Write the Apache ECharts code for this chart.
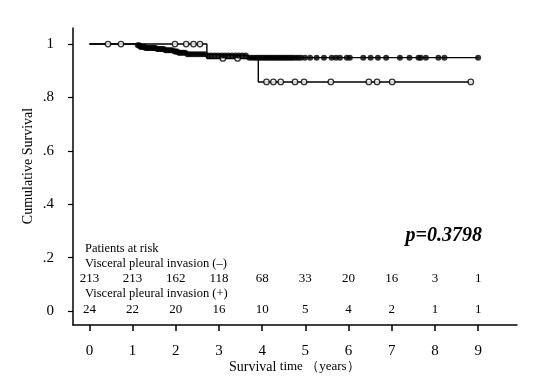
<!DOCTYPE html>
<html><head><meta charset="utf-8">
<script src="https://cdn.jsdelivr.net/npm/echarts@6/dist/echarts.min.js"></script>
<style>html,body{margin:0;padding:0;background:#fff}#c{width:549px;height:383px}</style>
</head><body><div id="c"></div><script>
// ---- data ----
const xTicks = [0,1,2,3,4,5,6,7,8,9];
const yTicks = [0,0.2,0.4,0.6,0.8,1];
// VPI (-) : Kaplan-Meier steps [time, survival after time]
const negEventTimes = [0,1.1,1.18,1.3,1.55,1.75,1.95,2.05,2.25,2.72,3.68];
const negEventSurv  = [1,0.995,0.99,0.985,0.981,0.977,0.972,0.967,0.962,0.957,0.949];
const negEndTime = 9.0;
const negCensor = [1.12,1.15,1.18,1.2,1.22,1.25,1.27,1.3,1.33,1.36,1.4,1.43,1.46,1.5,1.53,1.57,1.6,1.64,1.68,1.72,1.76,1.8,1.84,1.88,1.92,1.97,2.0,2.03,2.07,2.1,2.14,2.18,2.22,2.27,2.32,2.38,2.44,2.5,2.56,2.62,2.68,2.75,2.82,2.9,2.98,3.06,3.14,3.22,3.3,3.38,3.46,3.54,3.62,3.7,3.76,3.82,3.87,3.92,3.97,4.02,4.07,4.12,4.17,4.22,4.27,4.32,4.37,4.42,4.47,4.52,4.57,4.62,4.67,4.72,4.78,4.84,4.9,4.99,5.11,5.26,5.43,5.61,5.71,5.8,5.96,6.03,6.34,6.51,6.68,6.87,7.19,7.41,7.62,7.67,7.79,8.08,8.22,9.0];
// VPI (+)
const posEventTimes = [0,2.72,3.91];
const posEventSurv  = [1,0.946,0.858];
const posEndTime = 8.85;
const posCensor = [0.43,0.73,1.98,2.24,2.41,2.56,3.09,3.43,4.1,4.26,4.43,4.76,4.97,5.59,6.47,6.66,7.01,8.83];
// patients at risk
const riskTimes = [0,1,2,3,4,5,6,7,8,9];
const riskNeg = [213,213,162,118,68,33,20,16,3,1];
const riskPos = [24,22,20,16,10,5,4,2,1,1];
const pText = 'p=0.3798';

// ---- build ----
function stepData(ts, ss, end){
  const d = ts.map((t,i)=>[t, ss[i]]);
  d.push([end, ss[ss.length-1]]);
  return d;
}
function survAt(ts, ss, t){
  let v = ss[0];
  for (let i=0;i<ts.length;i++){ if (ts[i] <= t) v = ss[i]; }
  return v;
}
const FONT = '"Liberation Serif", "Times New Roman", serif';
const chart = echarts.init(document.getElementById('c'), null, {renderer:'canvas'});
const option = {
  backgroundColor: '#fff',
  animation: false,
  grid: {left: 73, right: 32, top: 28, bottom: 58, containLabel: false, outerBoundsMode: 'none'},
  xAxis: {
    type: 'value', min: -0.38, max: 9.9,
    axisLine: {show: true, onZero: false, lineStyle: {color: '#000', width: 1.5}},
    axisTick: {show: true, customValues: xTicks, length: 6, lineStyle: {color: '#000', width: 1.5}},
    axisLabel: {customValues: xTicks, color: '#000', fontSize: 15, fontFamily: FONT, margin: 19},
    splitLine: {show: false}
  },
  yAxis: {
    type: 'value', min: -0.052, max: 1.06,
    axisLine: {show: true, onZero: false, lineStyle: {color: '#000', width: 1.5}},
    axisTick: {show: true, customValues: yTicks, length: 5, lineStyle: {color: '#000', width: 1.2}},
    axisLabel: {customValues: yTicks, color: '#000', fontSize: 15, fontFamily: FONT, margin: 19,
      formatter: v => (v === 0 ? '0' : v === 1 ? '1' : String(Math.round(v*10)/10).replace(/^0/, ''))},
    splitLine: {show: false}
  },
  series: [
    {type: 'line', step: 'end', symbol: 'none', data: stepData(posEventTimes, posEventSurv, posEndTime),
     lineStyle: {color: '#000', width: 1.4}, z: 2},
    {type: 'line', step: 'end', symbol: 'none', data: stepData(negEventTimes, negEventSurv, negEndTime),
     lineStyle: {color: '#000', width: 1.4}, z: 3},
    {type: 'scatter', symbol: 'circle', symbolSize: 5.5,
     data: posCensor.map(t => [t, survAt(posEventTimes, posEventSurv, t)]),
     itemStyle: {color: '#fff', borderColor: '#000', borderWidth: 1.3}, z: 4},
    {type: 'scatter', symbol: 'circle', symbolSize: 6,
     data: negCensor.map(t => [t, survAt(negEventTimes, negEventSurv, t)]),
     itemStyle: {color: '#000'}, z: 5}
  ]
};
chart.setOption(option);

const g = [];
const txt = (x, y, s, opts) => g.push({type: 'text', x: x, y: y, z: 10,
  style: Object.assign({text: s, fill: '#000', font: '12px ' + FONT, textVerticalAlign: 'middle'}, opts || {})});
txt(85, 249, 'Patients at risk', {font: '12.5px ' + FONT});
txt(85, 264, 'Visceral pleural invasion (–)', {font: '12.5px ' + FONT});
txt(85, 294, 'Visceral pleural invasion (+)', {font: '12.5px ' + FONT});
riskTimes.forEach((t, i) => {
  const px = chart.convertToPixel({xAxisIndex: 0}, t);
  txt(px, 279, String(riskNeg[i]), {textAlign: 'center', font: '13px ' + FONT});
  txt(px, 310, String(riskPos[i]), {textAlign: 'center', font: '13px ' + FONT});
});
txt(482, 236, pText, {textAlign: 'right', font: 'italic bold 20px ' + FONT});
g.push({type: 'text', x: 28, y: 166, rotation: Math.PI / 2, z: 10, style: {
  text: 'Cumulative Survival', fill: '#000', font: '14px ' + FONT, textAlign: 'center', textVerticalAlign: 'middle'}});
g.push({type: 'text', x: 229, y: 367, z: 10, style: {
  rich: {a: {fontSize: 14, fontFamily: FONT, fill: '#000'}, b: {fontSize: 13, fontFamily: FONT, fill: '#000'}},
  text: '{a|Survival} {b|time （years）}', textVerticalAlign: 'middle'}});
chart.setOption({graphic: g});
</script></body></html>
